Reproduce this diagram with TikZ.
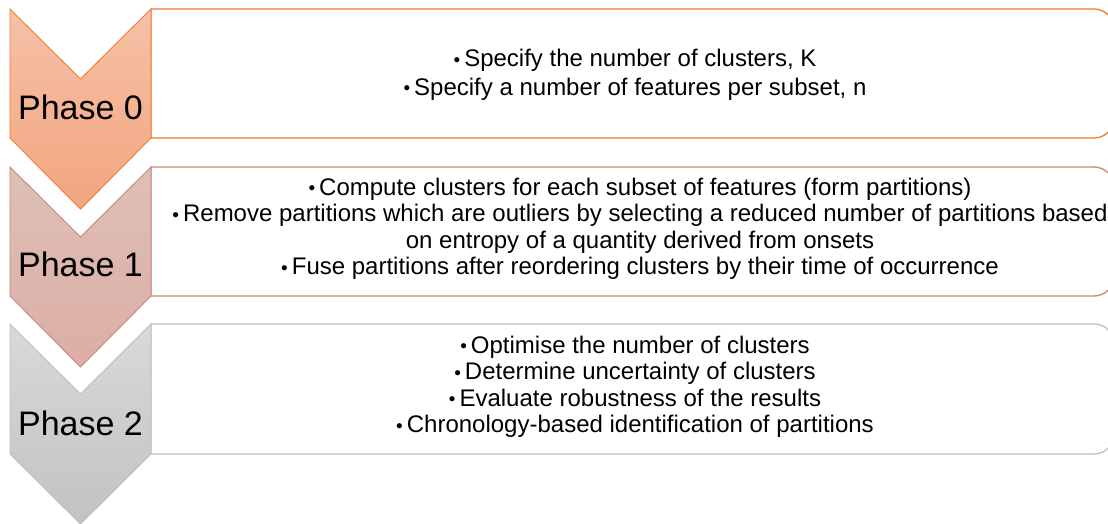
\documentclass[tikz,border=0pt]{standalone}
\usepackage{fontspec}
\setmainfont{Liberation Sans}
\definecolor{orstroke}{HTML}{ED7D31}
\definecolor{ortop}{HTML}{F6C1A7}
\definecolor{orbot}{HTML}{F3A57F}
\definecolor{rdstroke}{HTML}{C9877A}
\definecolor{rdtop}{HTML}{DEBFB8}
\definecolor{rdbot}{HTML}{DBAEA4}
\definecolor{gystroke}{HTML}{BFBFBF}
\definecolor{gytop}{HTML}{D9D9D9}
\definecolor{gybot}{HTML}{C2C2C2}
\tikzset{
  phaselabel/.style={font=\fontsize{34}{40}\selectfont, anchor=base, inner sep=0pt},
  bodytext/.style={font=\fontsize{24}{26.5}\selectfont, align=center, inner sep=0pt},
  infobox/.style={line width=1.3pt, fill=white},
  chevron/.style={line width=0.9pt},
}
\newcommand{\bul}{\raisebox{0.8pt}{\fontsize{19}{19}\selectfont•}\hspace{4pt}}
\begin{document}
\begin{tikzpicture}[x=1pt,y=-1pt]
\useasboundingbox (0,0) rectangle (1108,524);
\fill[white] (0,0) rectangle (1108,524);
% Phase 0
\draw[infobox, draw=orstroke] (151,138) -- (151,9) [rounded corners=20pt] -- (1114,9) -- (1114,138) [sharp corners] -- cycle;
\draw[chevron, draw=orstroke, top color=ortop, bottom color=orbot]
  (10,9) -- (80.5,79) -- (151,9) -- (151,138) -- (80.5,209) -- (10,138) -- cycle;
\node[phaselabel] (p0) at (80.5,120) {Phase 0};
\node[bodytext] (t0) at (635,75) {\bul Specify the number of clusters, K\\[2pt]
  \bul Specify a number of features per subset, n};
% Phase 1
\draw[infobox, draw=rdstroke] (151,296) -- (151,167) [rounded corners=20pt] -- (1114,167) -- (1114,296) [sharp corners] -- cycle;
\draw[chevron, draw=rdstroke, top color=rdtop, bottom color=rdbot]
  (10,167) -- (80.5,237) -- (151,167) -- (151,296) -- (80.5,367) -- (10,296) -- cycle;
\node[phaselabel] (p1) at (80.5,276) {Phase 1};
\node[bodytext] (t1) at (640,229) {\bul Compute clusters for each subset of features (form partitions)\\
  \bul Remove partitions which are outliers by selecting a reduced number of partitions based\\
  on entropy of a quantity derived from onsets\\
  \bul Fuse partitions after reordering clusters by their time of occurrence};
% Phase 2
\draw[infobox, draw=gystroke] (151,454) -- (151,324) [rounded corners=20pt] -- (1114,324) -- (1114,454) [sharp corners] -- cycle;
\draw[chevron, draw=gystroke, top color=gytop, bottom color=gybot]
  (10,324) -- (80.5,394) -- (151,324) -- (151,454) -- (80.5,524) -- (10,454) -- cycle;
\node[phaselabel] (p2) at (80.5,435) {Phase 2};
\node[bodytext] (t2) at (635,387) {\bul Optimise the number of clusters\\
  \bul Determine uncertainty of clusters\\
  \bul Evaluate robustness of the results\\
  \bul Chronology-based identification of partitions};
\end{tikzpicture}
\end{document}
